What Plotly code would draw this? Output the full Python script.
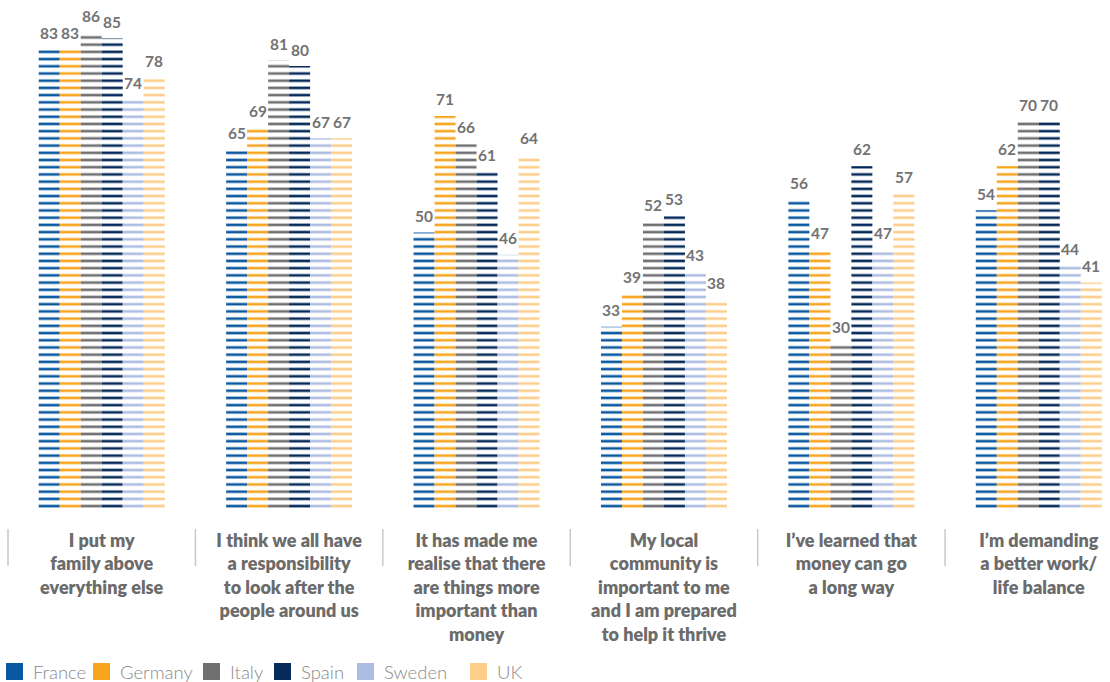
import plotly.graph_objects as go

categories = [
    "I put my<br>family above<br>everything else",
    "I think we all have<br>a responsibility<br>to look after the<br>people around us",
    "It has made me<br>realise that there<br>are things more<br>important than<br>money",
    "My local<br>community is<br>important to me<br>and I am prepared<br>to help it thrive",
    "I’ve learned that<br>money can go<br>a long way",
    "I’m demanding<br>a better work/<br>life balance",
]
countries = ["France", "Germany", "Italy", "Spain", "Sweden", "UK"]
france = [83, 65, 50, 33, 56, 54]
germany = [83, 69, 71, 39, 47, 62]
italy = [86, 81, 66, 52, 30, 70]
spain = [85, 80, 61, 53, 62, 70]
sweden = [74, 67, 46, 43, 47, 44]
uk = [78, 67, 64, 38, 57, 41]
series = [france, germany, italy, spain, sweden, uk]
colors = ["#0a58a0", "#f7a51e", "#707073", "#062a5a", "#adbde2", "#fdcd8b"]

W, H = 1110, 682
ml, mr, mt, mb = 8, 0, 5, 172
pw = W - ml - mr
ph = H - mt - mb
xr = [-0.5, 5.38]
unit_px = pw / (xr[1] - xr[0])
bargap = 1 - 126 / unit_px
bar_px = unit_px * (1 - bargap) / 6
yscale = 5.55
yr = [0, ph / yscale]


def px_x(px):
    return (px - ml) / pw


def px_y(py):
    return (ph - (py - mt)) / ph


fig = go.Figure()
for j, (name, vals, c) in enumerate(zip(countries, series, colors)):
    fig.add_trace(go.Bar(
        x=categories, y=vals, name=name, showlegend=False,
        marker=dict(color=c, line=dict(width=0),
                    pattern=dict(shape="-", size=7.21, solidity=0.36,
                                 fgcolor=c, bgcolor="rgba(0,0,0,0)", fillmode="replace")),
        hoverinfo="skip",
    ))
    for i, v in enumerate(vals):
        fig.add_annotation(x=categories[i], y=v, text=f"<b>{v}</b>", showarrow=False,
                           xshift=(j - 2.5) * bar_px, yshift=16.5, yanchor="middle",
                           font=dict(family="Lato", size=15.5, color="#737373"))

# legend (drawn as swatches + labels)
sq_left = [6, 93, 203, 274, 357, 470]
for j, (name, c) in enumerate(zip(countries, colors)):
    fig.add_shape(type="rect", xref="paper", yref="paper",
                  x0=px_x(sq_left[j]), x1=px_x(sq_left[j] + 17),
                  y0=px_y(680), y1=px_y(663),
                  fillcolor=c, line=dict(width=0))
    fig.add_annotation(xref="paper", yref="paper", x=px_x(sq_left[j] + 25), y=px_y(671.5),
                       xanchor="left", yanchor="middle", showarrow=False, text=name,
                       font=dict(family="Lato", size=18.5, color="#8a8a8a", weight=300))

# separators
for i in range(6):
    xp = (i - 0.5 - xr[0]) / (xr[1] - xr[0])
    fig.add_shape(type="line", xref="paper", yref="paper",
                  x0=xp, x1=xp, y0=px_y(529), y1=px_y(566),
                  line=dict(color="#c9c9c9", width=1.5))

fig.update_layout(
    width=W, height=H,
    margin=dict(l=ml, r=mr, t=mt, b=mb, autoexpand=False),
    plot_bgcolor="white", paper_bgcolor="white",
    barmode="group", bargap=bargap, bargroupgap=0,
    showlegend=False,
    xaxis=dict(range=xr, showgrid=False, zeroline=False, showline=False, ticks="",
               ticklabelstandoff=18,
               tickfont=dict(family="Lato", size=18, color="#6b6b6b", weight=800)),
    yaxis=dict(range=yr, visible=False, showgrid=False, zeroline=False),
)
fig.write_html("out.html")
